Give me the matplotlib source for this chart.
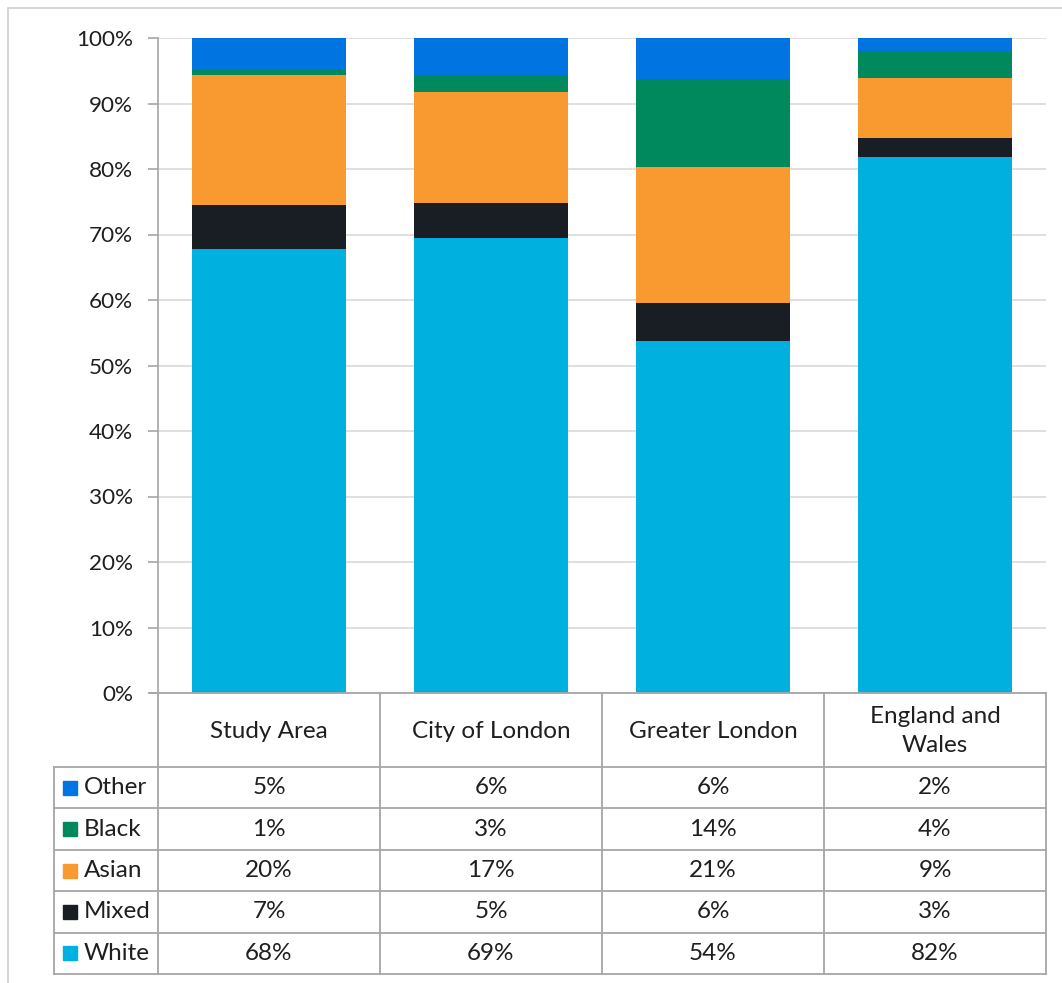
import matplotlib.pyplot as plt
import numpy as np

plt.rcParams['font.family'] = ['Lato', 'DejaVu Sans']

# Data (share of population, %)
areas = ['Study Area', 'City of London', 'Greater London', 'England and\nWales']
groups = ['White', 'Mixed', 'Asian', 'Black', 'Other']
white = [67.8, 69.4, 53.7, 81.8]
mixed = [6.7, 5.4, 5.8, 2.9]
asian = [19.8, 17.0, 20.8, 9.2]
black = [1.0, 2.6, 13.5, 4.1]
other = [4.7, 5.6, 6.2, 2.0]
colors = ['#00B0DE', '#191D24', '#F89A2F', '#00895C', '#0074E0']
series = [white, mixed, asian, black, other]

W, H = 1062, 983
fig = plt.figure(figsize=(W / 100, H / 100), dpi=100)
txt_col = '#1F1F1F'
line_col = '#A6A6A6'
fs = 17.5

# outer chart border
fig.patches.append(plt.Rectangle((8 / W, -0.01), 1.1, 1 - 8 / H - (-0.01),
                                 transform=fig.transFigure, fill=False,
                                 edgecolor='#D0D0D0', lw=1.2))

# bar axes
x0, x1, ytop, ybot = 158, 1046, 38, 693
ax = fig.add_axes([x0 / W, 1 - ybot / H, (x1 - x0) / W, (ybot - ytop) / H])
x = np.arange(len(areas))
bottom = np.zeros(len(areas))
for vals, c in zip(series, colors):
    ax.bar(x, vals, bottom=bottom, width=0.69, color=c, zorder=3)
    bottom += np.array(vals)

ax.set_xlim(-0.5, len(areas) - 0.5)
ax.set_ylim(0, 100)
ax.set_yticks(np.arange(0, 101, 10))
ax.set_yticklabels([f'{v}%' for v in range(0, 101, 10)], fontsize=16.2, color=txt_col)
ax.tick_params(axis='y', length=7, width=1.2, color=line_col, pad=11)
ax.set_xticks([])
ax.grid(axis='y', color='#D9D9D9', lw=1.2, zorder=0)
for s in ['top', 'right', 'bottom']:
    ax.spines[s].set_visible(False)
ax.spines['left'].set_color(line_col)
ax.spines['left'].set_linewidth(1.2)

# data table drawn below the bars
tx0, tbot = 54, 974
tax = fig.add_axes([tx0 / W, 1 - tbot / H, (x1 - tx0) / W, (tbot - ybot) / H])
tax.set_xlim(tx0, x1)
tax.set_ylim(tbot, ybot)
tax.axis('off')

col_w = (x1 - x0) / len(areas)
head_bot = 767
row_h = (tbot - head_bot) / len(groups)
lk = dict(color=line_col, lw=1.3, clip_on=False)

# horizontal lines
tax.plot([150, x1], [ybot, ybot], **lk)
for i in range(len(groups) + 1):
    yy = head_bot + i * row_h
    tax.plot([tx0, x1], [yy, yy], **lk)
# vertical lines
for j in range(len(areas) + 1):
    xx = x0 + j * col_w
    tax.plot([xx, xx], [ybot, tbot], **lk)
tax.plot([tx0, tx0], [head_bot, tbot], **lk)

# header
for j, name in enumerate(areas):
    tax.text(x0 + (j + 0.5) * col_w, (ybot + head_bot) / 2 + 1, name, ha='center',
             va='center', fontsize=fs, color=txt_col, linespacing=1.45)

# rows: Other at top, White at bottom
for i, (g, vals, c) in enumerate(zip(groups[::-1], series[::-1], colors[::-1])):
    yc = head_bot + (i + 0.5) * row_h
    tax.add_patch(plt.Rectangle((63, yc - 7), 14, 14, color=c, clip_on=False))
    tax.text(84, yc, g, ha='left', va='center', fontsize=fs, color=txt_col)
    for j, v in enumerate(vals):
        tax.text(x0 + (j + 0.5) * col_w, yc, f'{round(v)}%', ha='center',
                 va='center', fontsize=fs, color=txt_col)

plt.savefig('out.png', dpi=100)
